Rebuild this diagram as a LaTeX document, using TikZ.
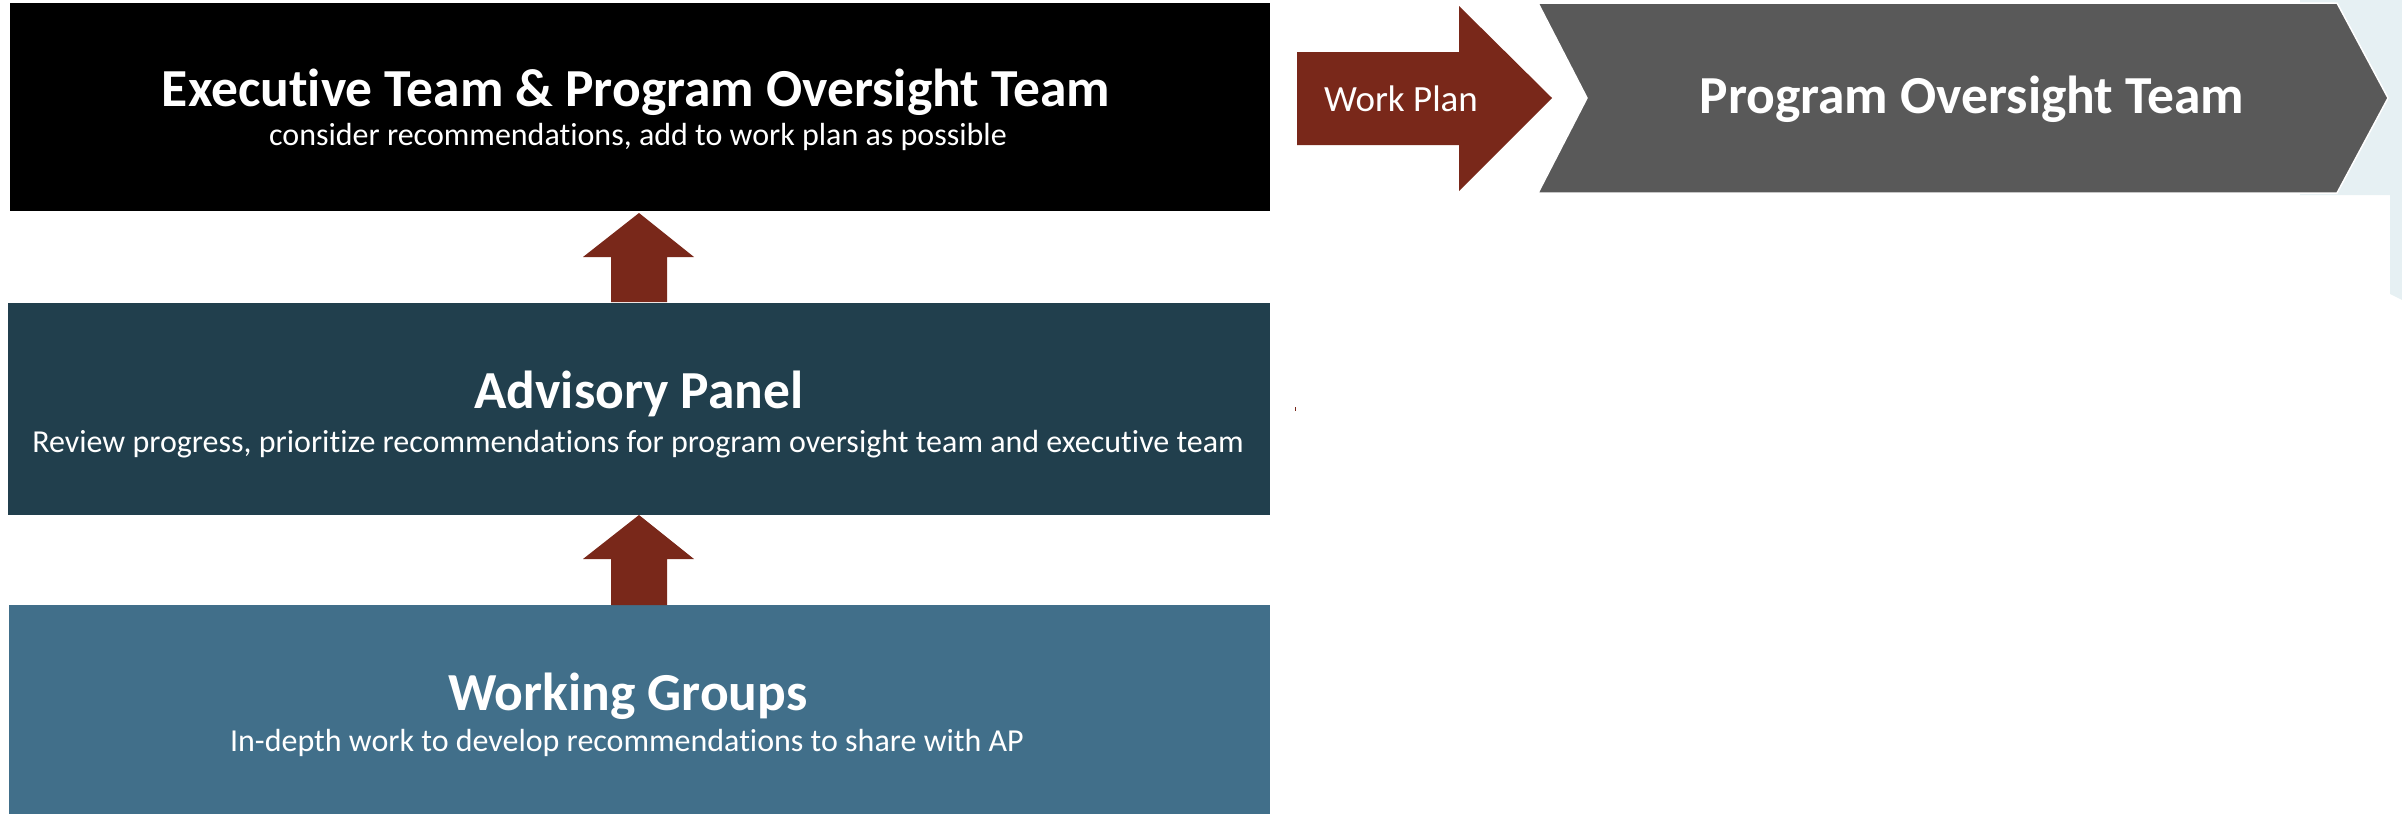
\documentclass[tikz,border=0pt]{standalone}
\usepackage{fontspec}
\setmainfont{Carlito}[Ligatures=NoCommon]
\definecolor{execbg}{HTML}{000000}
\definecolor{advbg}{HTML}{213F4D}
\definecolor{wgbg}{HTML}{416F8A}
\definecolor{arrowred}{HTML}{79281A}
\definecolor{chevgray}{HTML}{595959}
\definecolor{paleblue}{HTML}{E6F0F3}
\tikzset{
  titletext/.style={anchor=base, inner sep=0pt, text=white, font=\fontsize{53.5}{60}\selectfont\bfseries},
  subtext/.style={anchor=base, inner sep=0pt, text=white, font=\fontsize{32}{38}\selectfont},
  blockarrow/.style={fill=arrowred, draw=none},
}
\begin{document}
\begin{tikzpicture}[x=1pt,y=-1pt]
\useasboundingbox (0,0) rectangle (2402,814);
% pale blue background shape at the right
\fill[paleblue] (2300,0) -- (2402,0) -- (2402,300) -- (2390,294) -- (2390,195) -- (2300,195) -- cycle;
% boxes
\fill[execbg] (10,3) rectangle (1270,211);
\fill[advbg] (8,303) rectangle (1270,515);
\fill[wgbg] (9,605) rectangle (1270,814);
% up arrows
\fill[blockarrow] (639,213) -- (694,257) -- (667,257) -- (667,302) -- (611,302) -- (611,257) -- (583,257) -- cycle;
\fill[blockarrow] (639,515) -- (694,559) -- (667,559) -- (667,605) -- (611,605) -- (611,559) -- (583,559) -- cycle;
% work plan arrow
\fill[blockarrow] (1297,52) -- (1459,52) -- (1459,6) -- (1552,98) -- (1459,191) -- (1459,145) -- (1297,145) -- cycle;
% chevron
\filldraw[fill=chevgray, draw=white, line width=1.5pt] (1538,3) -- (2337,3) -- (2388,98) -- (2337,193) -- (1538,193) -- (1587,98) -- cycle;
% tiny mark
\fill[arrowred] (1294.5,407) rectangle (1296,411);
% texts
\node[titletext] (exect) at (636,106) {Executive Team \& Program Oversight Team};
\node[subtext] (execs) at (638,145) {consider recommendations, add to work plan as possible};
\node[titletext] (advt) at (639,408) {Advisory Panel};
\node[subtext] (advs) at (638,452) {Review progress, prioritize recommendations for program oversight team and executive team};
\node[titletext] (wgt) at (628,710) {Working Groups};
\node[subtext] (wgs) at (627,751) {In-depth work to develop recommendations to share with AP};
\node[subtext, font=\fontsize{37}{42}\selectfont] (wp) at (1401,111) {Work Plan};
\node[titletext] (pot) at (1972,113) {Program Oversight Team};
\end{tikzpicture}
\end{document}
